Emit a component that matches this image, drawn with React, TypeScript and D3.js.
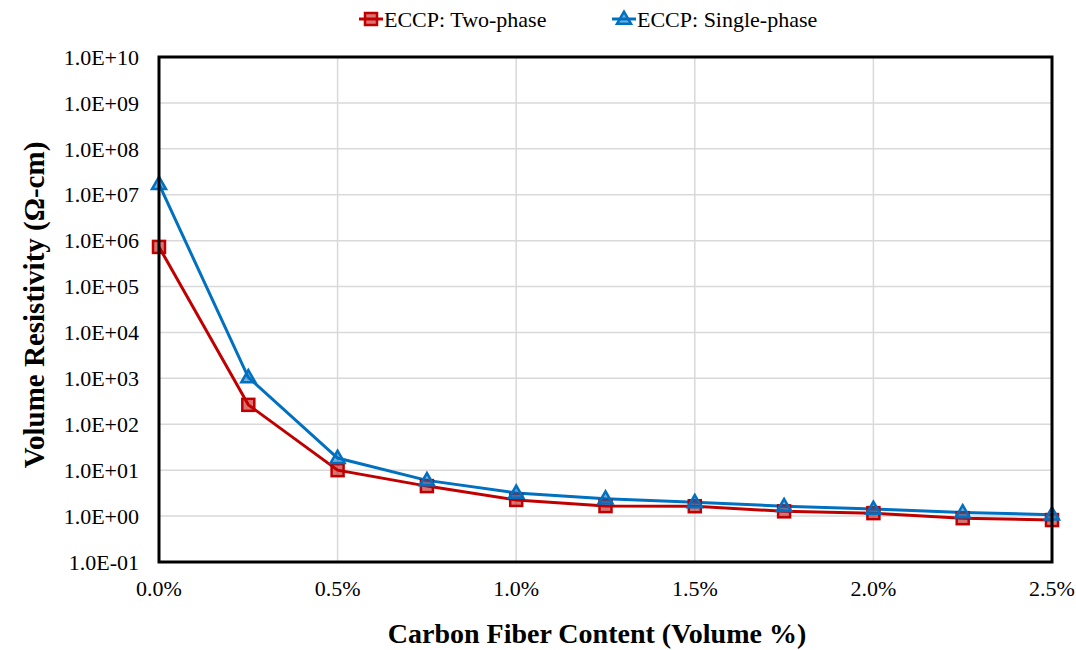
import React from "react";
import * as d3 from "d3";

// Carbon fiber volume fraction (%)
const fiberContent = [0, 0.25, 0.5, 0.75, 1.0, 1.25, 1.5, 1.75, 2.0, 2.25, 2.5];
// Volume resistivity (ohm-cm)
const twoPhase = [7.3e5, 265, 10, 4.5, 2.25, 1.65, 1.64, 1.27, 1.16, 0.9, 0.82];
const singlePhase = [1.7e7, 1.05e3, 18.4, 6.0, 3.2, 2.4, 2.0, 1.64, 1.43, 1.2, 1.07];

const xTicks = [0, 0.5, 1.0, 1.5, 2.0, 2.5];
const yTickExponents = [-1, 0, 1, 2, 3, 4, 5, 6, 7, 8, 9, 10];

const seriesNames = ["ECCP: Two-phase", "ECCP: Single-phase"];
const RED = "#C00000";
const BLUE = "#0070C0";

const W = 1076;
const H = 650;
const plot = { left: 159, right: 1052, top: 57, bottom: 562 };
const FONT = "Liberation Serif, Times New Roman, serif";

function fmtExp(e: number) {
  const sign = e < 0 ? "-" : "+";
  const a = Math.abs(e);
  return `1.0E${sign}${a < 10 ? "0" + a : a}`;
}

function Square({ x, y }: { x: number; y: number }) {
  const s = 12;
  return (
    <rect x={x - s / 2} y={y - s / 2} width={s} height={s} fill={RED} fillOpacity={0.55} stroke={RED} strokeWidth={2.5} />
  );
}

function Triangle({ x, y }: { x: number; y: number }) {
  const s = 14;
  const h = s * 0.87;
  const pts = `${x},${y - h * 0.6} ${x - s / 2},${y + h * 0.4} ${x + s / 2},${y + h * 0.4}`;
  return <polygon points={pts} fill={BLUE} fillOpacity={0.55} stroke={BLUE} strokeWidth={2.5} strokeLinejoin="miter" />;
}

const txt = { fontFamily: FONT, fill: "#000" } as const;

export default function App() {
  const x0 = plot.left;
  const x1 = plot.right;
  const y0 = plot.bottom;
  const y1 = plot.top;

  const x = d3.scaleLinear().domain([0, 2.5]).range([x0, x1]);
  const y = d3.scaleLog().domain([1e-1, 1e10]).range([y0, y1]);

  const line = d3
    .line<[number, number]>()
    .x((d) => x(d[0]))
    .y((d) => y(d[1]));

  const redPts: [number, number][] = fiberContent.map((c, i) => [c, twoPhase[i]]);
  const bluePts: [number, number][] = fiberContent.map((c, i) => [c, singlePhase[i]]);

  return (
    <svg width={W} height={H} style={{ position: "absolute", left: 0, top: 0, background: "#fff" }}>
      {/* grid */}
      {yTickExponents.slice(1, -1).map((e) => (
        <line key={"gy" + e} x1={x0} x2={x1} y1={y(Math.pow(10, e))} y2={y(Math.pow(10, e))} stroke="#d9d9d9" strokeWidth={1.5} />
      ))}
      {xTicks.slice(1, -1).map((t) => (
        <line key={"gx" + t} x1={x(t)} x2={x(t)} y1={y0} y2={y1} stroke="#d9d9d9" strokeWidth={1.5} />
      ))}

      {/* series */}
      <path d={line(bluePts) || ""} fill="none" stroke={BLUE} strokeWidth={3} />
      <path d={line(redPts) || ""} fill="none" stroke={RED} strokeWidth={3} />
      {redPts.map((p, i) => (
        <Square key={"r" + i} x={x(p[0])} y={y(p[1])} />
      ))}
      {bluePts.map((p, i) => (
        <Triangle key={"b" + i} x={x(p[0])} y={y(p[1])} />
      ))}

      {/* frame */}
      <rect x={x0} y={y1} width={x1 - x0} height={y0 - y1} fill="none" stroke="#000" strokeWidth={3} />

      {/* y tick labels */}
      {yTickExponents.map((e) => (
        <text key={"yt" + e} x={x0 - 20} y={y(Math.pow(10, e))} dy="0.35em" textAnchor="end" fontSize={22} style={txt}>
          {fmtExp(e)}
        </text>
      ))}
      {/* x tick labels */}
      {xTicks.map((t) => (
        <text key={"xt" + t} x={x(t)} y={596} textAnchor="middle" fontSize={22} style={txt}>
          {t.toFixed(1) + "%"}
        </text>
      ))}

      {/* axis titles */}
      <text x={597} y={643} textAnchor="middle" fontSize={28} fontWeight="bold" style={txt}>
        Carbon Fiber Content (Volume %)
      </text>
      <text
        transform={`translate(44, 305) rotate(-90)`}
        textAnchor="middle"
        fontSize={29}
        fontWeight="bold"
        style={txt}
      >
        Volume Resistivity (Ω-cm)
      </text>

      {/* legend */}
      <g>
        <line x1={359} x2={383} y1={19} y2={19} stroke={RED} strokeWidth={3} />
        <Square x={371} y={19} />
        <text x={384} y={19} dy="0.35em" fontSize={22} style={txt}>
          {seriesNames[0]}
        </text>
        <line x1={612} x2={636} y1={19} y2={19} stroke={BLUE} strokeWidth={3} />
        <Triangle x={624} y={19} />
        <text x={637} y={19} dy="0.35em" fontSize={22} style={txt}>
          {seriesNames[1]}
        </text>
      </g>
    </svg>
  );
}
